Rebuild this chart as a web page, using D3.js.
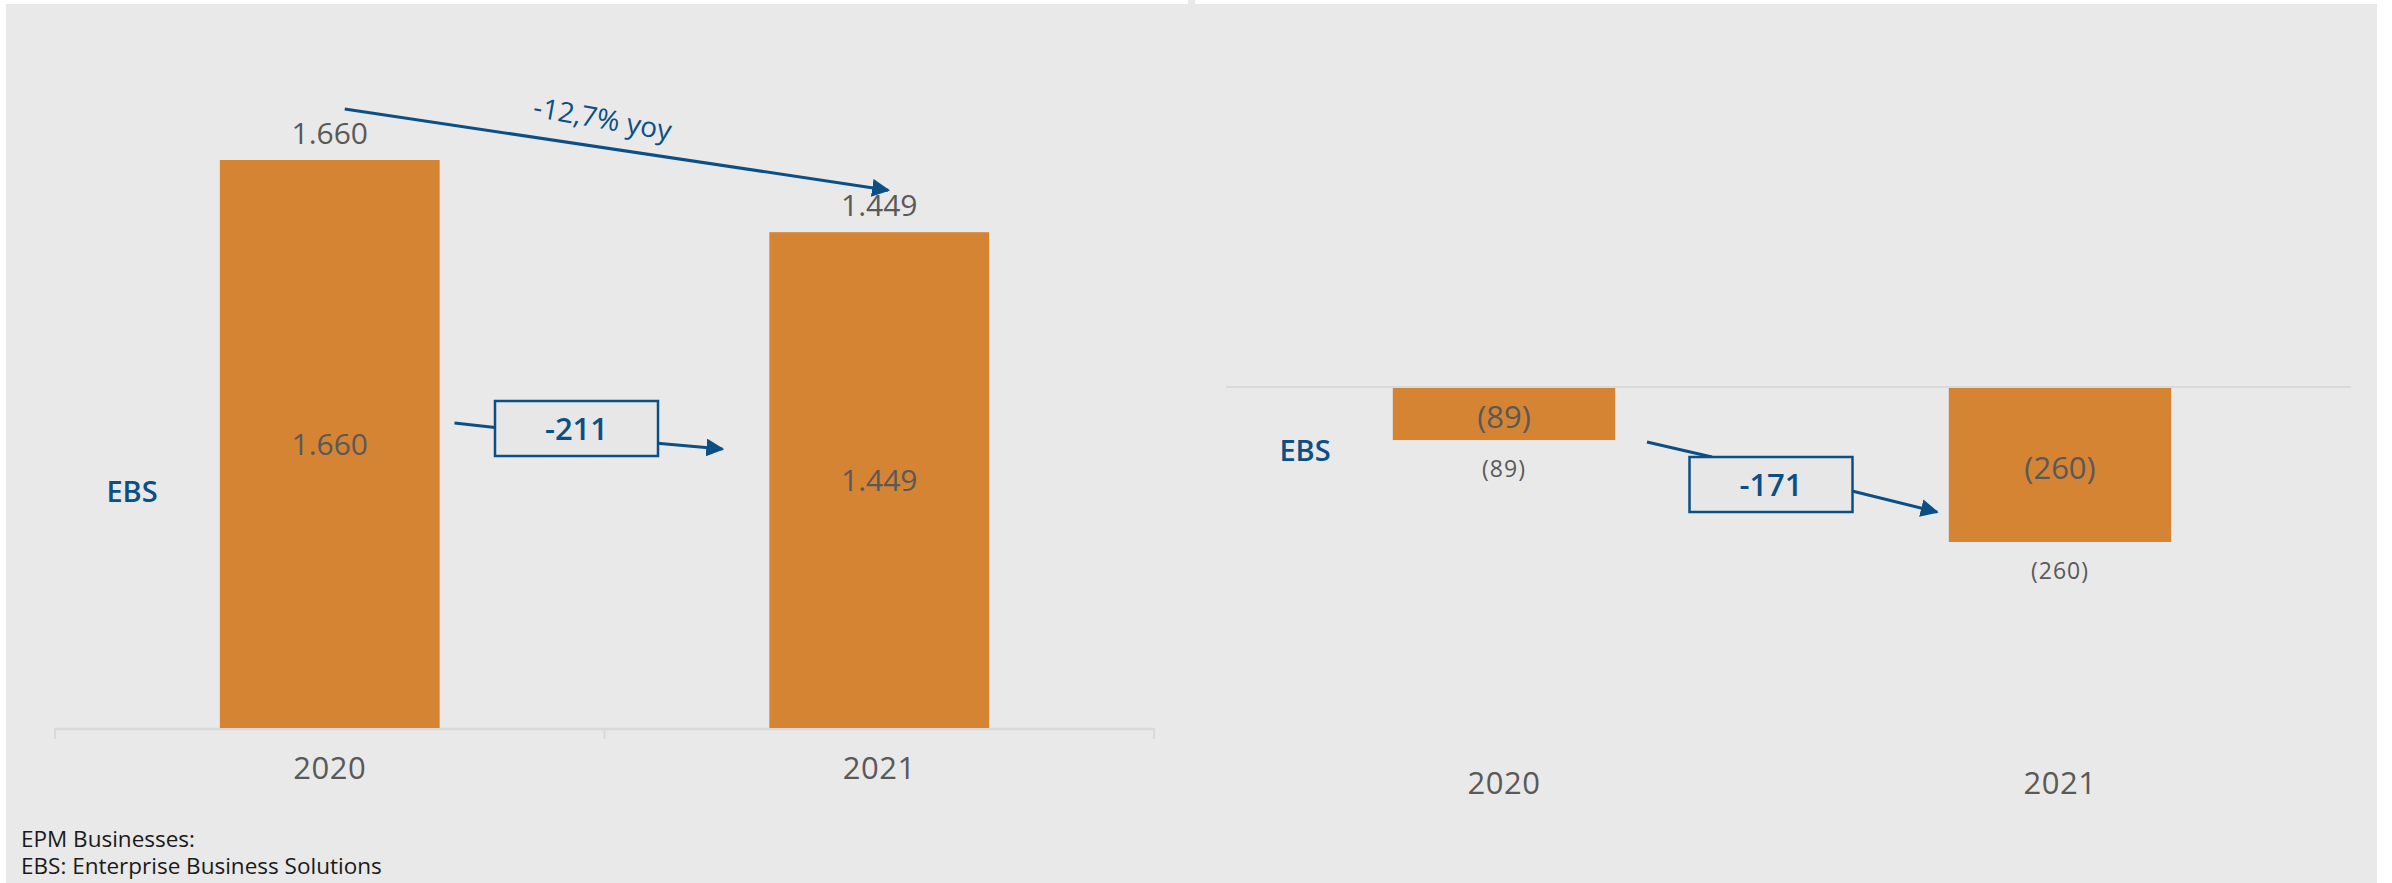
<!DOCTYPE html>
<html>
<head>
<meta charset="utf-8">
<script src="https://cdn.jsdelivr.net/npm/d3@7"></script>
<style>
  html, body { margin: 0; padding: 0; background: #fff; }
  svg { display: block; font-family: "Open Sans", sans-serif; }
</style>
</head>
<body>
<div id="chart"></div>
<script>
// data
const years = ["2020", "2021"];
const ebsLeft = [1660, 1449];     // left panel
const ebsRight = [-89, -260];     // right panel
const leftLabels = ["1.660", "1.449"];
const rightLabels = ["(89)", "(260)"];
const leftDelta = "-211";
const rightDelta = "-171";
const yoyText = "-12,7% yoy";
const notes = ["EPM Businesses:", "EBS: Enterprise Business Solutions"];

const W = 2392, H = 883;
const orange = "#d58434", blue = "#0b4f85", grey = "#595959";

const svg = d3.select("#chart").append("svg")
  .attr("width", W).attr("height", H);

svg.append("defs").append("marker")
  .attr("id", "arr")
  .attr("viewBox", "0 0 10 10")
  .attr("refX", 9).attr("refY", 5)
  .attr("markerWidth", 6).attr("markerHeight", 6)
  .attr("markerUnits", "strokeWidth")
  .attr("orient", "auto")
  .append("path").attr("d", "M0,0 L10,5 L0,10 z").attr("fill", blue);

// background panel
svg.append("rect").attr("x", 6).attr("y", 4).attr("width", 2371).attr("height", H - 4).attr("fill", "#e9e9e9");
svg.append("rect").attr("x", 1188).attr("y", 0).attr("width", 7).attr("height", 5).attr("fill", "#e9e9e9");

// ---------- left panel ----------
const xL = d3.scaleBand().domain(years).range([55, 1154]).paddingInner(0.6).paddingOuter(0.3);
const yL = d3.scaleLinear().domain([0, 1660]).range([728, 160]);
const left = svg.append("g");

// axis line + ticks on band edges
left.append("line")
  .attr("x1", xL.range()[0]).attr("x2", xL.range()[1])
  .attr("y1", yL(0) + 1).attr("y2", yL(0) + 1)
  .attr("stroke", "#d9d9d9").attr("stroke-width", 2.5);
d3.range(years.length + 1).forEach(i => {
  const x = xL.range()[0] + i * xL.step();
  left.append("line").attr("x1", x).attr("x2", x)
    .attr("y1", yL(0)).attr("y2", yL(0) + 11)
    .attr("stroke", "#d9d9d9").attr("stroke-width", 2);
});

left.selectAll("rect.bar").data(ebsLeft).join("rect")
  .attr("class", "bar")
  .attr("x", (d, i) => xL(years[i]))
  .attr("width", xL.bandwidth())
  .attr("y", d => yL(d))
  .attr("height", d => yL(0) - yL(d))
  .attr("fill", orange);

// value above bar
left.selectAll("text.top").data(ebsLeft).join("text")
  .attr("x", (d, i) => xL(years[i]) + xL.bandwidth() / 2)
  .attr("y", d => yL(d) - 16)
  .attr("text-anchor", "middle")
  .attr("font-size", 30).attr("fill", grey)
  .text((d, i) => leftLabels[i]);

// value inside bar
left.selectAll("text.mid").data(ebsLeft).join("text")
  .attr("x", (d, i) => xL(years[i]) + xL.bandwidth() / 2)
  .attr("y", d => (yL(d) + yL(0)) / 2)
  .attr("dy", "0.36em")
  .attr("text-anchor", "middle")
  .attr("font-size", 30).attr("fill", grey)
  .text((d, i) => leftLabels[i]);

left.selectAll("text.cat").data(years).join("text")
  .attr("x", d => xL(d) + xL.bandwidth() / 2)
  .attr("y", 768).attr("dy", "0.36em")
  .attr("text-anchor", "middle")
  .attr("font-size", 31).attr("letter-spacing", 0.5).attr("fill", grey)
  .text(d => d);

left.append("text").attr("x", 132).attr("y", 492).attr("dy", "0.36em")
  .attr("text-anchor", "middle").attr("font-size", 29).attr("font-weight", 600)
  .attr("fill", blue).text("EBS");

// yoy arrow
const c0 = xL(years[0]) + xL.bandwidth() / 2, c1 = xL(years[1]) + xL.bandwidth() / 2;
const a0 = [c0 + 15, yL(ebsLeft[0]) - 51], a1 = [c1 + 9, yL(ebsLeft[1]) - 42];
left.append("line")
  .attr("x1", a0[0]).attr("y1", a0[1]).attr("x2", a1[0]).attr("y2", a1[1])
  .attr("stroke", blue).attr("stroke-width", 3).attr("marker-end", "url(#arr)");
const ang = Math.atan2(a1[1] - a0[1], a1[0] - a0[0]) * 180 / Math.PI;
left.append("text")
  .attr("transform", `translate(${(a0[0] + a1[0]) / 2 - 14},${(a0[1] + a1[1]) / 2 - 31}) rotate(${ang + 1.5})`)
  .attr("text-anchor", "middle").attr("dy", "0.36em")
  .attr("font-size", 28).attr("fill", blue).text(yoyText);

// delta box
function deltaBox(g, cx, cy, txt, lineIn, lineOut) {
  g.append("line").attr("x1", lineIn[0]).attr("y1", lineIn[1]).attr("x2", lineIn[2]).attr("y2", lineIn[3])
    .attr("stroke", blue).attr("stroke-width", 3);
  g.append("line").attr("x1", lineOut[0]).attr("y1", lineOut[1]).attr("x2", lineOut[2]).attr("y2", lineOut[3])
    .attr("stroke", blue).attr("stroke-width", 3).attr("marker-end", "url(#arr)");
  g.append("rect").attr("x", cx - 81.5).attr("y", cy - 27.5).attr("width", 163).attr("height", 55)
    .attr("fill", "#e7e7e7").attr("stroke", blue).attr("stroke-width", 2.5);
  g.append("text").attr("x", cx).attr("y", cy).attr("dy", "0.36em")
    .attr("text-anchor", "middle").attr("font-size", 31).attr("font-weight", 600)
    .attr("fill", blue).text(txt);
}
const gapL = (xL(years[0]) + xL.bandwidth() + xL(years[1])) / 2;
deltaBox(left, gapL - 28, 428.5, leftDelta,
  [gapL - 150, 423, gapL - 105, 428], [gapL + 50, 443, gapL + 118, 449]);

// ---------- right panel ----------
const xR = d3.scaleBand().domain(years).range([1226, 2338]).paddingInner(0.6).paddingOuter(0.3);
const yR = d3.scaleLinear().domain([-260, 0]).range([542, 387]);
const right = svg.append("g");

right.append("line")
  .attr("x1", xR.range()[0]).attr("x2", xR.range()[1] + 13)
  .attr("y1", yR(0)).attr("y2", yR(0))
  .attr("stroke", "#dadada").attr("stroke-width", 2);

right.selectAll("rect.bar").data(ebsRight).join("rect")
  .attr("class", "bar")
  .attr("x", (d, i) => xR(years[i]))
  .attr("width", xR.bandwidth())
  .attr("y", yR(0) + 1)
  .attr("height", d => yR(d) - yR(0) - 1)
  .attr("fill", orange);

right.selectAll("text.mid").data(ebsRight).join("text")
  .attr("x", (d, i) => xR(years[i]) + xR.bandwidth() / 2)
  .attr("y", d => (yR(d) + yR(0)) / 2 + 3)
  .attr("dy", "0.36em")
  .attr("text-anchor", "middle")
  .attr("font-size", 31).attr("fill", grey)
  .text((d, i) => rightLabels[i]);

right.selectAll("text.below").data(ebsRight).join("text")
  .attr("x", (d, i) => xR(years[i]) + xR.bandwidth() / 2)
  .attr("y", d => yR(d) + 29)
  .attr("dy", "0.36em")
  .attr("text-anchor", "middle")
  .attr("font-size", 23).attr("fill", grey)
  .attr("letter-spacing", 1)
  .text((d, i) => rightLabels[i]);

right.selectAll("text.cat").data(years).join("text")
  .attr("x", d => xR(d) + xR.bandwidth() / 2)
  .attr("y", 783).attr("dy", "0.36em")
  .attr("text-anchor", "middle")
  .attr("font-size", 31).attr("letter-spacing", 0.5).attr("fill", grey)
  .text(d => d);

right.append("text").attr("x", 1305).attr("y", 451).attr("dy", "0.36em")
  .attr("text-anchor", "middle").attr("font-size", 29).attr("font-weight", 600)
  .attr("fill", blue).text("EBS");

const gapR = (xR(years[0]) + xR.bandwidth() + xR(years[1])) / 2;
deltaBox(right, gapR - 11, 484.5, rightDelta,
  [gapR - 135, 442, gapR - 70, 457], [gapR + 70, 491, gapR + 155, 512]);

// ---------- footnote ----------
svg.selectAll("text.note").data(notes).join("text")
  .attr("x", 21).attr("y", (d, i) => 847 + i * 27)
  .attr("font-size", 22.5).attr("fill", "#1a1a1a")
  .text(d => d);
</script>
</body>
</html>
